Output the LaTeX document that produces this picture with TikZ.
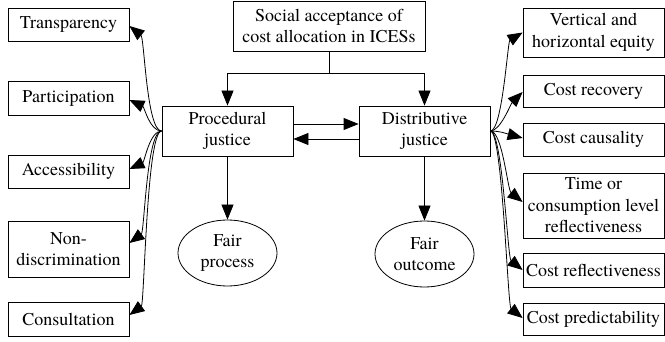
\documentclass[tikz,border=0pt]{standalone}
\usepackage{fontspec}
\IfFontExistsTF{texgyretermes-regular.otf}{\setmainfont{texgyretermes-regular.otf}}{\setmainfont{DejaVu Serif}}
\usetikzlibrary{arrows.meta,shapes.geometric}
\begin{document}
\begin{tikzpicture}[x=1pt,y=-1pt,
  every node/.style={font=\rmfamily\fontsize{18}{21.5}\selectfont},
  box/.style={draw, line width=0.8pt, align=center, inner sep=0pt},
  lbox/.style={box, minimum width=121pt},
  rbox/.style={box, minimum width=141pt},
  cbox/.style={box, minimum width=131pt, minimum height=50pt},
  ell/.style={draw, line width=0.8pt, ellipse, align=center, inner sep=0pt, minimum width=99pt, minimum height=66pt},
  tip/.tip={Triangle[length=15pt,width=12pt]},
  arr/.style={line width=0.8pt, -tip}
]
\useasboundingbox (0,0) rectangle (665,342);
\clip (0,0) rectangle (665,342);
\fill[white] (0,0) rectangle (665,342);

% centre
\node[box, minimum width=192pt, minimum height=50pt] (soc) at (329,26) {Social acceptance of\\cost allocation in ICESs};
\node[cbox] (proc) at (227.5,131) {Procedural\\justice};
\node[cbox] (dist) at (424.5,131) {Distributive\\justice};
\node[ell] (fp) at (227.5,253) {Fair\\process};
\node[ell] (fo) at (424.5,254) {Fair\\outcome};

% left
\node[lbox, minimum height=33pt] (tra) at (68.5,24.5) {Transparency};
\node[lbox, minimum height=34pt] (par) at (68.5,98) {Participation};
\node[lbox, minimum height=33pt] (acc) at (68.5,171.5) {Accessibility};
\node[lbox, minimum height=56pt] (non) at (68.5,249) {Non-\\discrimination};
\node[lbox, minimum height=34pt] (con) at (68.5,319) {Consultation};

% right
\node[rbox, minimum height=49pt] (veq) at (593.5,32.5) {Vertical and\\horizontal equity};
\node[rbox, minimum height=32pt] (crec) at (593.5,91) {Cost recovery};
\node[rbox, minimum height=33pt] (ccau) at (593.5,139.5) {Cost causality};
\node[rbox, minimum height=65pt] (time) at (593.5,205.5) {Time or\\consumption level\\reflectiveness};
\node[rbox, minimum height=34pt] (cref) at (593.5,270) {Cost reflectiveness};
\node[rbox, minimum height=32pt] (cpre) at (593.5,319) {Cost predictability};

% centre connectors
\draw[arr] (soc.south) -- ++(0,22) -| (proc.north);
\draw[arr] (soc.south) -- ++(0,22) -| (dist.north);
\draw[arr] ([yshift=7pt]proc.east) -- ([yshift=7pt]dist.west);
\draw[arr] ([yshift=-8pt]dist.west) -- ([yshift=-8pt]proc.east);
\draw[arr] (proc.south) -- (fp.north);
\draw[arr] (dist.south) -- (fo.north);

% left curves
\draw[arr] (proc.west) .. controls +(-15,0) and +(15,12) .. ([yshift=-1.5pt]tra.east);
\draw[arr] (proc.west) .. controls +(-12,0) and +(15,7) .. ([yshift=-2pt]par.east);
\draw[arr] (proc.west) .. controls +(-12,0) and +(15,-7) .. ([yshift=2.5pt]acc.east);
\draw[arr] (proc.west) .. controls +(-15,0) and +(15,-11) .. ([yshift=6pt]non.east);
\draw[arr] (proc.west) .. controls +(-15,0) and +(15,-11) .. ([yshift=4pt]con.east);

% right curves
\draw[arr] (dist.east) .. controls +(12,0) and +(-15,9) .. (veq.west);
\draw[arr] (dist.east) .. controls +(10,0) and +(-12,12) .. ([yshift=-1pt]crec.west);
\draw[arr] (dist.east) .. controls +(10,0) and +(-15,-4) .. ([yshift=1.5pt]ccau.west);
\draw[arr] (dist.east) .. controls +(12,0) and +(-15,-12) .. ([yshift=3.5pt]time.west);
\draw[arr] (dist.east) .. controls +(12,0) and +(-15,-12) .. (cref.west);
\draw[arr] (dist.east) .. controls +(12,0) and +(-15,-12) .. ([yshift=1pt]cpre.west);
\end{tikzpicture}
\end{document}
